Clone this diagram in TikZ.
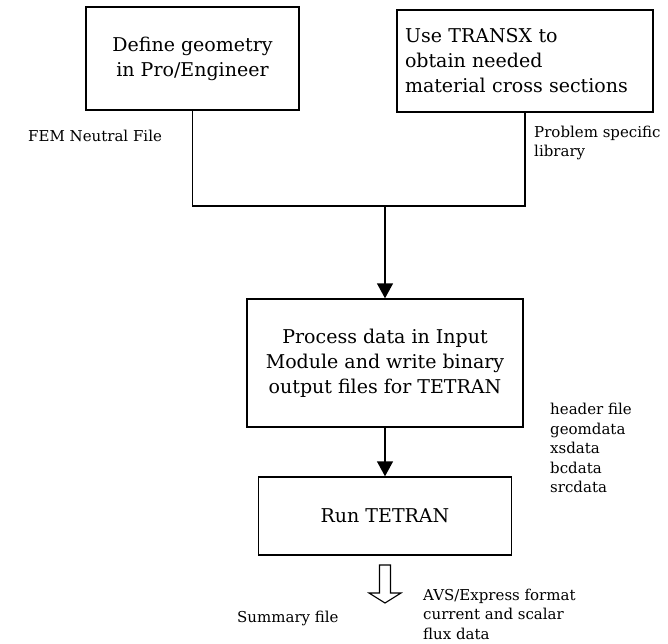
\documentclass[tikz,border=0pt]{standalone}
\usepackage{fontspec}
\setmainfont{DejaVu Serif}
\usetikzlibrary{arrows.meta}
\begin{document}
\begin{tikzpicture}[x=1pt,y=-1pt,
  procbox/.style={draw,line width=1.4pt,inner sep=0pt,font=\fontsize{19}{25}\selectfont,align=center},
  lbl/.style={inner sep=0pt,font=\fontsize{15}{19.5}\selectfont,align=left,anchor=west},
  conn/.style={line width=1.4pt},
  flow/.style={line width=1.4pt,-{Triangle[length=15pt,width=16pt]}}]
\useasboundingbox (0,0) rectangle (668,643);
\node[procbox,minimum width=213pt,minimum height=103pt] (b1) at (192.5,58.5) {Define geometry\\in Pro/Engineer};
\node[procbox,minimum width=256pt,minimum height=102pt,text width=240pt,align=left] (b2) at (525,61) {Use TRANSX to\\obtain needed\\material cross sections};
\node[procbox,minimum width=276pt,minimum height=128pt] (b3) at (385,363) {Process data in Input\\Module and write binary\\output files for TETRAN};
\node[procbox,minimum width=253pt,minimum height=78pt] (b4) at (385,516) {Run TETRAN};
\coordinate (j) at (385,206);
\draw[conn] (b1.south) |- (j) -| (b2.south);
\draw[flow] (j) -- (b3.north);
\draw[flow] (b3.south) -- (b4.north);
\coordinate (h) at (385,565);
\draw[line width=1.1pt,line join=miter] (h) ++(-5.5,0) -- ++(0,28) -- ++(-10.5,0) -- (385,603) -- (401,593) -- ++(-10.5,0) -- ++(0,-28) -- cycle;
\node[lbl] (fem) at (28,136) {FEM Neutral File};
\node[lbl] (psl) at (534,143) {Problem specific\\library};
\node[lbl] (files) at (550,448) {header file\\geomdata\\xsdata\\bcdata\\srcdata};
\node[lbl] (sum) at (237,618) {Summary file};
\node[lbl] (avs) at (423,614) {AVS/Express format\\current and scalar\\flux data};
\end{tikzpicture}
\end{document}
